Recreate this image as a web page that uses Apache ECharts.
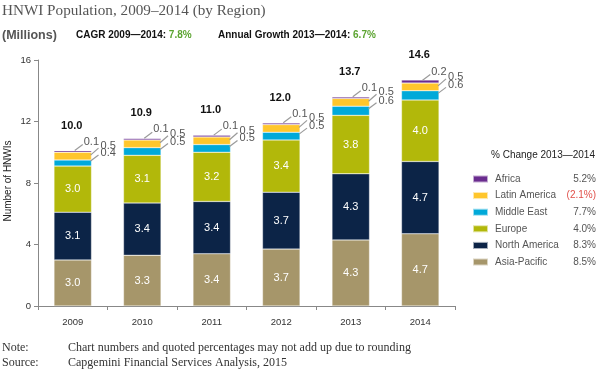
<!DOCTYPE html>
<html>
<head>
<meta charset="utf-8">
<script src="https://cdn.jsdelivr.net/npm/echarts@6/dist/echarts.min.js"></script>
<style>html,body{margin:0;padding:0;background:#fff}#c{width:600px;height:370px}</style>
</head>
<body>
<div id="c"></div>
<script>
const categories = ['2009', '2010', '2011', '2012', '2013', '2014'];
const asiaPacific = [3.0, 3.3, 3.4, 3.7, 4.3, 4.7];
const northAmerica = [3.1, 3.4, 3.4, 3.7, 4.3, 4.7];
const europe = [3.0, 3.1, 3.2, 3.4, 3.8, 4.0];
const middleEast = [0.4, 0.5, 0.5, 0.5, 0.6, 0.6];
const latinAmerica = [0.5, 0.5, 0.5, 0.5, 0.5, 0.5];
const africa = [0.1, 0.1, 0.1, 0.1, 0.1, 0.2];
const totals = [10.0, 10.9, 11.0, 12.0, 13.7, 14.6];
const legendNames = ['Africa', 'Latin America', 'Middle East', 'Europe', 'North America', 'Asia-Pacific'];
const pctChange = ['5.2%', '(2.1%)', '7.7%', '4.0%', '8.3%', '8.5%'];
const yTicks = [0, 4, 8, 12, 16];

const colors = {
  'Asia-Pacific': '#A6966A',
  'North America': '#0C2447',
  'Europe': '#B2B80A',
  'Middle East': '#00A9D9',
  'Latin America': '#FFC62C',
  'Africa': '#6A2C8F'
};
const SANS = '"Liberation Sans", Arial, sans-serif';
const SERIF = '"Liberation Serif", "DejaVu Serif", serif';

const chart = echarts.init(document.getElementById('c'), null, {renderer: 'canvas'});

function barSeries(name, data, showLabel) {
  return {
    name: name, type: 'bar', stack: 'total', data: data,
    barWidth: '54%',
    itemStyle: {color: colors[name], borderColor: 'rgba(255,255,255,0.6)', borderWidth: 0.5},
    label: {show: showLabel, position: 'inside', color: '#fff', fontSize: 11, fontFamily: SANS,
      formatter: p => p.value.toFixed(1)},
    emphasis: {disabled: true}
  };
}

const option = {
  animation: false,
  textStyle: {fontFamily: SANS},
  title: [
    {text: 'HNWI Population, 2009–2014 (by Region)', left: 2, top: 4, padding: 0,
      textStyle: {fontFamily: SERIF, fontWeight: 'normal', fontSize: 15.2, color: '#555'}},
    {text: '(Millions)', left: 2, top: 29, padding: 0,
      textStyle: {fontFamily: SANS, fontWeight: 'bold', fontSize: 12.5, color: '#555'}},
    {text: '{a|CAGR 2009—2014: }{g|7.8%}', left: 76, top: 30, padding: 0,
      textStyle: {fontWeight: 'bold', rich: {a: {fontFamily: SANS, fontSize: 10, color: '#111'}, g: {fontFamily: SANS, fontSize: 10, color: '#5CA431'}}}},
    {text: '{a|Annual Growth 2013—2014: }{g|6.7%}', left: 218, top: 30, padding: 0,
      textStyle: {fontWeight: 'bold', rich: {a: {fontFamily: SANS, fontSize: 10, color: '#111'}, g: {fontFamily: SANS, fontSize: 10, color: '#5CA431'}}}},
    {text: '% Change 2013—2014', left: 491, top: 150, padding: 0,
      textStyle: {fontFamily: SANS, fontWeight: 'normal', fontSize: 10, color: '#222'}}
  ],
  legend: {
    orient: 'vertical', left: 472, top: 173, padding: 0,
    data: legendNames,
    icon: 'rect', itemWidth: 15, itemHeight: 7, itemGap: 4.6,
    selectedMode: false,
    formatter: name => {
      const i = legendNames.indexOf(name);
      const p = pctChange[i];
      return '{n|' + name + '}{' + (p.startsWith('(') ? 'r' : 'p') + '|' + p + '}';
    },
    textStyle: {
      fontFamily: SANS, fontSize: 10, color: '#555', lineHeight: 12,
      rich: {
        n: {width: 66, fontSize: 10, color: '#555', fontFamily: SANS, padding: [0, 0, 0, 2]},
        p: {width: 35, align: 'right', fontSize: 10, color: '#555', fontFamily: SANS},
        r: {width: 35, align: 'right', fontSize: 10, color: '#E0504A', fontFamily: SANS}
      }
    }
  },
  grid: {left: 38, right: 145, top: 60, bottom: 64, containLabel: false, outerBoundsMode: 'none'},
  xAxis: {
    type: 'category', data: categories,
    axisLine: {lineStyle: {color: '#888', width: 1}},
    axisTick: {show: true, length: 4, alignWithLabel: false, lineStyle: {color: '#888'}},
    axisLabel: {color: '#333', fontSize: 9.5, margin: 11, fontFamily: SANS}
  },
  yAxis: {
    type: 'value', min: yTicks[0], max: yTicks[yTicks.length - 1], interval: 4,
    axisLine: {show: true, lineStyle: {color: '#888', width: 1}},
    axisTick: {show: true, length: 4, lineStyle: {color: '#888'}},
    axisLabel: {color: '#333', fontSize: 9.5, margin: 7, fontFamily: SANS},
    splitLine: {show: false}
  },
  series: [
    barSeries('Asia-Pacific', asiaPacific, true),
    barSeries('North America', northAmerica, true),
    barSeries('Europe', europe, true),
    barSeries('Middle East', middleEast, false),
    barSeries('Latin America', latinAmerica, false),
    barSeries('Africa', africa, false),
    {
      type: 'custom', name: 'annotations', z: 10, silent: true, clip: false,
      data: categories.map((c, i) => [i, totals[i]]),
      encode: {x: 0, y: 1},
      renderItem: function (params, api) {
        const i = api.value(0);
        const base = asiaPacific[i] + northAmerica[i] + europe[i];
        const meTop = base + middleEast[i];
        const laTop = meTop + latinAmerica[i];
        const afTop = laTop + africa[i];
        const cx = api.coord([i, 0])[0];
        const bw = api.size([1, 0])[0] * 0.54;
        const right = cx + bw / 2;
        const meMid = api.coord([i, base + middleEast[i] / 2])[1];
        const laMid = api.coord([i, meTop + latinAmerica[i] / 2])[1];
        const afMid = api.coord([i, laTop + africa[i] / 2])[1];
        const top = api.coord([i, afTop])[1];
        const lineStyle = {stroke: '#9a9a9a', lineWidth: 1.2};
        const small = (x, y, t) => ({type: 'text', style: {x: x, y: y, text: t, fill: '#555', fontSize: 11, fontFamily: SANS, align: 'left', verticalAlign: 'middle'}});
        return {
          type: 'group',
          children: [
            {type: 'line', shape: {x1: cx + 2, y1: afMid - 1, x2: cx + 10, y2: afMid - 7}, style: lineStyle},
            small(cx + 11, afMid - 10, africa[i].toFixed(1)),
            {type: 'line', shape: {x1: right - 1, y1: laMid - 1, x2: right + 7, y2: laMid - 8}, style: lineStyle},
            small(right + 9, laMid - 10, latinAmerica[i].toFixed(1)),
            {type: 'line', shape: {x1: right - 1, y1: meMid - 2, x2: right + 7, y2: meMid - 8}, style: lineStyle},
            small(right + 9, meMid - 10, middleEast[i].toFixed(1)),
            {type: 'text', style: {x: cx - 1, y: top - 25, text: totals[i].toFixed(1), fill: '#111', fontSize: 11, fontWeight: 'bold', fontFamily: SANS, align: 'center', verticalAlign: 'middle'}}
          ]
        };
      }
    }
  ],
  graphic: [
    {type: 'text', x: 8, y: 181, rotation: Math.PI / 2,
      style: {text: 'Number of HNWIs', fontFamily: SANS, fontSize: 10, fill: '#222', align: 'center', verticalAlign: 'middle'}},
    {type: 'text', left: 2, top: 342, style: {text: 'Note:', fontFamily: SERIF, fontSize: 12, fill: '#333'}},
    {type: 'text', left: 68, top: 342, style: {text: 'Chart numbers and quoted percentages may not add up due to rounding', fontFamily: SERIF, fontSize: 12, fill: '#333'}},
    {type: 'text', left: 2, top: 357, style: {text: 'Source:', fontFamily: SERIF, fontSize: 12, fill: '#333'}},
    {type: 'text', left: 68, top: 357, style: {text: 'Capgemini Financial Services Analysis, 2015', fontFamily: SERIF, fontSize: 12, fill: '#333'}}
  ]
};
chart.setOption(option);
</script>
</body>
</html>
